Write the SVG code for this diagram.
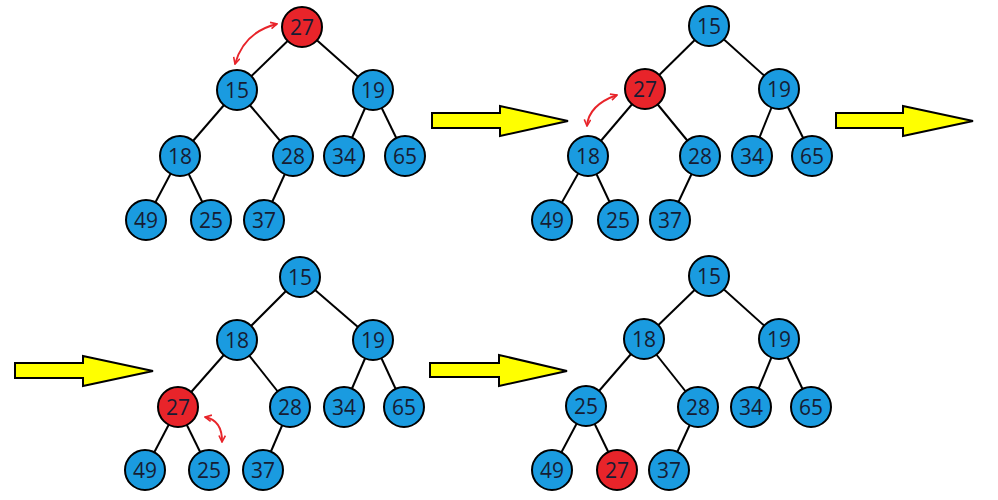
<svg xmlns="http://www.w3.org/2000/svg" width="998" height="500" viewBox="0 0 998 500">
<defs>
<style>
.n circle{stroke:#000;stroke-width:2}
.b circle{fill:#1a9be0}
.r circle{fill:#e8242a}
.n text{font-family:"Open Sans","Noto Sans","Liberation Sans",sans-serif;font-size:21px;fill:#161c33;text-anchor:middle}
.e line{stroke:#000;stroke-width:2}
.big{fill:#ffff00;stroke:#000;stroke-width:2;stroke-linejoin:miter}
.sw{fill:none;stroke:#e8242a;stroke-width:1.9;marker-start:url(#ah);marker-end:url(#ah)}
</style>
<marker id="ah" viewBox="0 0 10 10" refX="9" refY="5" markerWidth="8" markerHeight="8" markerUnits="userSpaceOnUse" orient="auto-start-reverse">
<path d="M1,1 L9,5 L1,9" fill="none" stroke="#e8242a" stroke-width="2"/>
</marker>
</defs>
<rect width="998" height="500" fill="#fff"/>

<g id="connectors">
<g class="e">
<!-- tree 1 -->
<line x1="302" y1="27" x2="237" y2="90"/><line x1="302" y1="27" x2="373" y2="90"/>
<line x1="237" y1="90" x2="180" y2="156"/><line x1="237" y1="90" x2="293" y2="156"/>
<line x1="373" y1="90" x2="344" y2="156"/><line x1="373" y1="90" x2="405" y2="156"/>
<line x1="180" y1="156" x2="146" y2="220"/><line x1="180" y1="156" x2="211" y2="220"/>
<line x1="293" y1="156" x2="264" y2="220"/>
<!-- tree 2 -->
<line x1="709" y1="26" x2="645" y2="89"/><line x1="709" y1="26" x2="779" y2="89"/>
<line x1="645" y1="89" x2="588" y2="156"/><line x1="645" y1="89" x2="700" y2="156"/>
<line x1="779" y1="89" x2="752" y2="156"/><line x1="779" y1="89" x2="812" y2="156"/>
<line x1="588" y1="156" x2="552" y2="220"/><line x1="588" y1="156" x2="618" y2="220"/>
<line x1="700" y1="156" x2="670" y2="220"/>
<!-- tree 3 -->
<line x1="300" y1="277" x2="237" y2="340"/><line x1="300" y1="277" x2="373" y2="340"/>
<line x1="237" y1="340" x2="178" y2="407"/><line x1="237" y1="340" x2="290" y2="407"/>
<line x1="373" y1="340" x2="344" y2="407"/><line x1="373" y1="340" x2="404" y2="407"/>
<line x1="178" y1="407" x2="145" y2="470"/><line x1="178" y1="407" x2="209" y2="470"/>
<line x1="290" y1="407" x2="263" y2="470"/>
<!-- tree 4 -->
<line x1="709" y1="276" x2="644" y2="339"/><line x1="709" y1="276" x2="779" y2="339"/>
<line x1="644" y1="339" x2="586" y2="406"/><line x1="644" y1="339" x2="698" y2="407"/>
<line x1="779" y1="339" x2="751" y2="407"/><line x1="779" y1="339" x2="811" y2="407"/>
<line x1="586" y1="406" x2="552" y2="470"/><line x1="586" y1="406" x2="617" y2="470"/>
<line x1="698" y1="407" x2="669" y2="470"/>
</g>
<path class="sw" d="M235,64 Q244,32 277,24"/>
<path class="sw" d="M587,126 Q588.5,105 617,95"/>
<path class="sw" d="M205,417 Q222.5,420.5 222,442"/>
<polygon class="big" points="432,113 500,113 500,106 568,121 500,136 500,128 432,128"/>
<polygon class="big" points="836,113 903,113 903,106 973,121 903,136 903,128 836,128"/>
<polygon class="big" points="15,363 83,363 83,356 153,371 83,386 83,378 15,378"/>
<polygon class="big" points="430,363 499,363 499,355 567,371 499,386 499,377 430,377"/>
</g>

<!-- tree 1 -->
<g id="t1-27" class="n r"><circle cx="302" cy="27" r="20"/><text x="302" y="34.5">27</text></g>
<g id="t1-15" class="n b"><circle cx="237" cy="90" r="20"/><text x="237" y="97.5">15</text></g>
<g id="t1-19" class="n b"><circle cx="373" cy="90" r="20"/><text x="373" y="97.5">19</text></g>
<g id="t1-18" class="n b"><circle cx="180" cy="156" r="20"/><text x="180" y="163.5">18</text></g>
<g id="t1-28" class="n b"><circle cx="293" cy="156" r="20"/><text x="293" y="163.5">28</text></g>
<g id="t1-34" class="n b"><circle cx="344" cy="156" r="20"/><text x="344" y="163.5">34</text></g>
<g id="t1-65" class="n b"><circle cx="405" cy="156" r="20"/><text x="405" y="163.5">65</text></g>
<g id="t1-49" class="n b"><circle cx="146" cy="220" r="20"/><text x="146" y="227.5">49</text></g>
<g id="t1-25" class="n b"><circle cx="211" cy="220" r="20"/><text x="211" y="227.5">25</text></g>
<g id="t1-37" class="n b"><circle cx="264" cy="220" r="20"/><text x="264" y="227.5">37</text></g>

<!-- tree 2 -->
<g id="t2-15" class="n b"><circle cx="709" cy="26" r="20"/><text x="709" y="33.5">15</text></g>
<g id="t2-27" class="n r"><circle cx="645" cy="89" r="20"/><text x="645" y="96.5">27</text></g>
<g id="t2-19" class="n b"><circle cx="779" cy="89" r="20"/><text x="779" y="96.5">19</text></g>
<g id="t2-18" class="n b"><circle cx="588" cy="156" r="20"/><text x="588" y="163.5">18</text></g>
<g id="t2-28" class="n b"><circle cx="700" cy="156" r="20"/><text x="700" y="163.5">28</text></g>
<g id="t2-34" class="n b"><circle cx="752" cy="156" r="20"/><text x="752" y="163.5">34</text></g>
<g id="t2-65" class="n b"><circle cx="812" cy="156" r="20"/><text x="812" y="163.5">65</text></g>
<g id="t2-49" class="n b"><circle cx="552" cy="220" r="20"/><text x="552" y="227.5">49</text></g>
<g id="t2-25" class="n b"><circle cx="618" cy="220" r="20"/><text x="618" y="227.5">25</text></g>
<g id="t2-37" class="n b"><circle cx="670" cy="220" r="20"/><text x="670" y="227.5">37</text></g>

<!-- tree 3 -->
<g id="t3-15" class="n b"><circle cx="300" cy="277" r="20"/><text x="300" y="284.5">15</text></g>
<g id="t3-18" class="n b"><circle cx="237" cy="340" r="20"/><text x="237" y="347.5">18</text></g>
<g id="t3-19" class="n b"><circle cx="373" cy="340" r="20"/><text x="373" y="347.5">19</text></g>
<g id="t3-27" class="n r"><circle cx="178" cy="407" r="20"/><text x="178" y="414.5">27</text></g>
<g id="t3-28" class="n b"><circle cx="290" cy="407" r="20"/><text x="290" y="414.5">28</text></g>
<g id="t3-34" class="n b"><circle cx="344" cy="407" r="20"/><text x="344" y="414.5">34</text></g>
<g id="t3-65" class="n b"><circle cx="404" cy="407" r="20"/><text x="404" y="414.5">65</text></g>
<g id="t3-49" class="n b"><circle cx="145" cy="470" r="20"/><text x="145" y="477.5">49</text></g>
<g id="t3-25" class="n b"><circle cx="209" cy="470" r="20"/><text x="209" y="477.5">25</text></g>
<g id="t3-37" class="n b"><circle cx="263" cy="470" r="20"/><text x="263" y="477.5">37</text></g>

<!-- tree 4 -->
<g id="t4-15" class="n b"><circle cx="709" cy="276" r="20"/><text x="709" y="283.5">15</text></g>
<g id="t4-18" class="n b"><circle cx="644" cy="339" r="20"/><text x="644" y="346.5">18</text></g>
<g id="t4-19" class="n b"><circle cx="779" cy="339" r="20"/><text x="779" y="346.5">19</text></g>
<g id="t4-25" class="n b"><circle cx="586" cy="406" r="20"/><text x="586" y="413.5">25</text></g>
<g id="t4-28" class="n b"><circle cx="698" cy="407" r="20"/><text x="698" y="414.5">28</text></g>
<g id="t4-34" class="n b"><circle cx="751" cy="407" r="20"/><text x="751" y="414.5">34</text></g>
<g id="t4-65" class="n b"><circle cx="811" cy="407" r="20"/><text x="811" y="414.5">65</text></g>
<g id="t4-49" class="n b"><circle cx="552" cy="470" r="20"/><text x="552" y="477.5">49</text></g>
<g id="t4-27" class="n r"><circle cx="617" cy="470" r="20"/><text x="617" y="477.5">27</text></g>
<g id="t4-37" class="n b"><circle cx="669" cy="470" r="20"/><text x="669" y="477.5">37</text></g>
</svg>
